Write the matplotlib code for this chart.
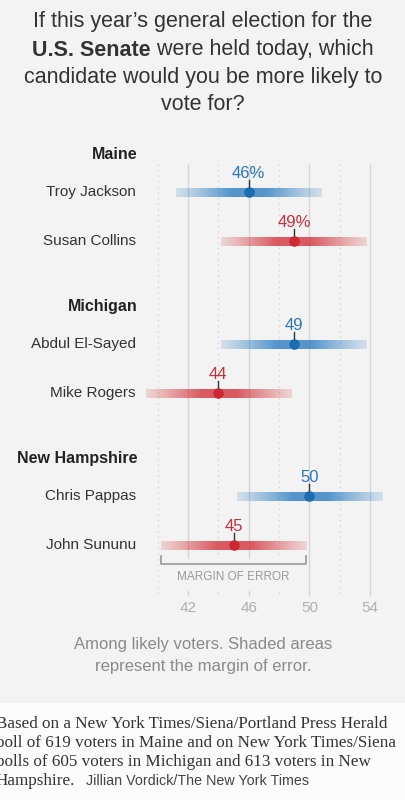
import numpy as np
import matplotlib
matplotlib.use('Agg')
import matplotlib.pyplot as plt
from matplotlib.patches import Rectangle

# poll data
states = ['Maine', 'Michigan', 'New Hampshire']
candidates = ['Troy Jackson', 'Susan Collins', 'Abdul El-Sayed', 'Mike Rogers',
              'Chris Pappas', 'John Sununu']
candidate_state = [0, 0, 1, 1, 2, 2]
party = ['D', 'R', 'D', 'R', 'D', 'R']
values = [46, 49, 49, 44, 50, 45]
moe_low = [41.2, 44.2, 44.2, 39.2, 45.2, 40.2]
moe_high = [50.8, 53.8, 53.8, 48.8, 54.8, 49.8]
value_labels = ['46%', '49%', '49', '44', '50', '45']
ticks = [42, 46, 50, 54]
minor_ticks = [40, 44, 48, 52]

bg = '#f3f3f3'
bar_col = {'D': '#3f88c8', 'R': '#d6454c'}
dot_col = {'D': '#1c6cb2', 'R': '#cc2a32'}
txt_col = {'D': '#2b77b7', 'R': '#c3313a'}

plt.rcParams['font.family'] = ['Liberation Sans', 'DejaVu Sans']

W, H = 406, 800
fig = plt.figure(figsize=(W / 100, H / 100), dpi=100)
fig.patch.set_facecolor(bg)

# white footer strip
fig.add_artist(Rectangle((0, 0), 1, 97 / H, transform=fig.transFigure,
                         facecolor='#fcfcfc', edgecolor='none', zorder=0))

# chart axes, y in pixel rows (top=140, bottom=598)
px_per_unit = 15.17
x0, x1 = 38, 56
left_px = 188 - (42 - x0) * px_per_unit
ax = fig.add_axes([left_px / W, (H - 598) / H, (x1 - x0) * px_per_unit / W, 458 / H])
ax.set_facecolor('none')
for s in ax.spines.values():
    s.set_visible(False)

# row positions
row_y = [192 + 49 * k + 54 * candidate_state[k] for k in range(len(candidates))]
label_x = x0 + (136 - left_px) / px_per_unit

# gridlines
ax.vlines(ticks, 164, 596, color='#d5d5d5', lw=1, zorder=1)
ax.vlines(minor_ticks, 164, 596, color='#d5d5d5', lw=1, linestyles=(0, (1, 3)), zorder=1)

# gradient bars
t = np.linspace(0, 1, 200)
prof = 0.18 + 0.7 * np.clip(np.minimum(t, 1 - t) / 0.38, 0, 1) ** 1.1
for k, name in enumerate(candidates):
    y = row_y[k]
    rgba = np.zeros((1, len(t), 4))
    rgba[0, :, :3] = matplotlib.colors.to_rgb(bar_col[party[k]])
    rgba[0, :, 3] = prof
    ax.imshow(rgba, extent=(moe_low[k], moe_high[k], y + 4.5, y - 4.5),
              aspect='auto', interpolation='bilinear', zorder=2)
    ax.plot([values[k], values[k]], [y - 12, y], color='#333333', lw=1, zorder=3)
    ax.scatter(values[k], y, s=58, color=dot_col[party[k]], zorder=4, lw=0)
    ax.text(values[k], y - 19, value_labels[k], ha='center', va='center',
            fontsize=12, color=txt_col[party[k]], zorder=4)
    ax.text(label_x, y, name, ha='right', va='center', fontsize=11,
            color='#333333', clip_on=False)

# state headers
for g, st in enumerate(states):
    first = candidate_state.index(g)
    ax.text(label_x + 0.1, row_y[first] - 38, st, ha='right', va='center',
            fontsize=11.5, fontweight='bold', color='#222222', clip_on=False)

# margin of error bracket, taken from the last row
lo, hi = moe_low[-1], moe_high[-1]
ax.add_patch(Rectangle((lo, 559), hi - lo, 32, facecolor=bg, edgecolor='none', zorder=1.5))
ax.plot([lo, lo, hi, hi], [556, 564, 564, 556], color='#9a9a9a', lw=1.2, zorder=3)
ax.text((lo + hi) / 2, 577, 'MARGIN OF ERROR', ha='center', va='center',
        fontsize=8.5, color='#9a9a9a', zorder=3)

ax.set_xlim(x0, x1)
ax.set_ylim(598, 140)
ax.set_yticks([])
ax.set_xticks(ticks)
ax.set_xticklabels([str(v) for v in ticks])
ax.tick_params(axis='x', length=0, pad=2, labelsize=11, labelcolor='#b0b0b0')

# title
title_col = '#333333'
title_size = 15.5
fig.text(0.5, 1 - 22 / H, "If this year\u2019s general election for the", ha='center',
         va='center', fontsize=title_size, color=title_col)
tb = fig.text(0, 1 - 50 / H, "U.S. Senate", ha='left', va='center',
              fontsize=title_size, fontweight='bold', color=title_col)
tr = fig.text(0, 1 - 50 / H, " were held today, which", ha='left', va='center',
              fontsize=title_size, color=title_col)
fig.text(0.5, 1 - 78 / H, "candidate would you be more likely to", ha='center',
         va='center', fontsize=title_size, color=title_col)
fig.text(0.5, 1 - 105 / H, "vote for?", ha='center', va='center',
         fontsize=title_size, color=title_col)
rend = fig.canvas.get_renderer()
w1 = tb.get_window_extent(rend).width
w2 = tr.get_window_extent(rend).width
start = (W - w1 - w2) / 2
tb.set_x(start / W)
tr.set_x((start + w1) / W)

# caption
fig.text(0.5, 1 - 645 / H, "Among likely voters. Shaded areas", ha='center', va='center',
         fontsize=12, color='#8a8a8a')
fig.text(0.5, 1 - 666 / H, "represent the margin of error.", ha='center', va='center',
         fontsize=12, color='#8a8a8a')

# footer (note), cut at the left edge like the source
note_lines = ["Based on a New York Times/Siena/Portland Press Herald",
              "poll of 619 voters in Maine and on New York Times/Siena",
              "polls of 605 voters in Michigan and 613 voters in New",
              "Hampshire."]
for i, line in enumerate(note_lines):
    fig.text(-4 / W, 1 - (724 + 19 * i) / H, line, ha='left', va='center',
             fontsize=12.3, family=['Liberation Serif', 'DejaVu Serif'], color='#333333')
fig.text(86 / W, 1 - 781 / H, "Jillian Vordick/The New York Times", ha='left', va='center',
         fontsize=10.3, color='#444444')

fig.savefig('out.png', dpi=100, facecolor=fig.get_facecolor())
